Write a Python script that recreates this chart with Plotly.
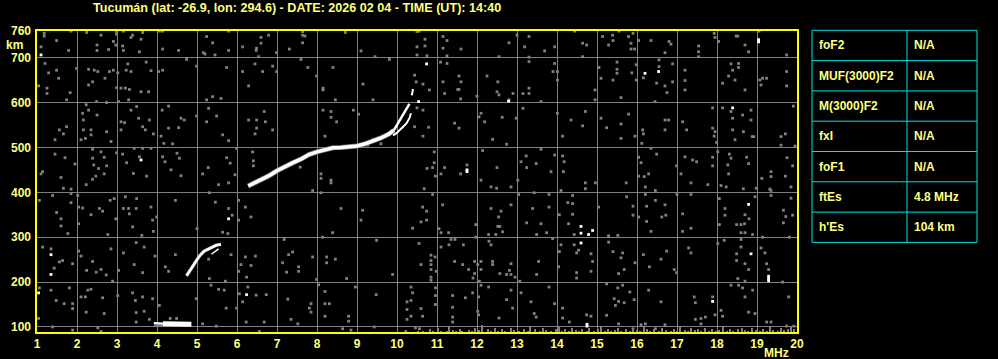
import plotly.graph_objects as go

TITLE = "Tucumán (lat: -26.9, lon: 294.6) - DATE: 2026 02 04 - TIME (UT): 14:40"
x_ticks = list(range(1, 21))
y_ticks = [100, 200, 300, 400, 500, 600, 700, 760]

table_params = ["foF2", "MUF(3000)F2", "M(3000)F2", "fxI", "foF1", "ftEs", "h'Es"]
table_values = ["N/A", "N/A", "N/A", "N/A", "N/A", "4.8 MHz", "104 km"]

# ---- echo traces (MHz, km) ----
es_f = [4.15, 4.30, 4.50, 4.70, 4.86]
es_h = [107, 107, 106, 106, 106]
es_lead_f = [3.92, 4.02, 4.15]
es_lead_h = [109, 109, 108]

f1_f = [4.74, 4.83, 4.96, 5.06, 5.18, 5.31, 5.48, 5.60]
f1_h = [214, 226, 245, 258, 269, 275, 282, 284]
f1x_f = [5.36, 5.43, 5.54]
f1x_h = [262, 266, 274]

f2_f = [6.28, 6.45, 6.60, 6.80, 7.00, 7.20, 7.40, 7.60, 7.80, 8.00, 8.20, 8.40, 8.60, 8.80, 9.00, 9.20, 9.40, 9.60, 9.80, 9.92]
f2_h = [414, 421, 428, 437, 448, 458, 466, 474, 484, 490, 495, 499, 500, 501, 503, 508, 514, 521, 530, 538]
f2_tip_f = [9.92, 10.02, 10.13, 10.23, 10.31]
f2_tip_h = [538, 553, 570, 583, 597]
f2_cusp_f = [10.37, 10.40]
f2_cusp_h = [616, 630]
f2x_f = [9.90, 9.98, 10.14, 10.24, 10.31, 10.35]
f2x_h = [527, 531, 545, 554, 565, 576]

white_dots = [(1.10, 706), (3.60, 472), (10.74, 686), (12.79, 603), (11.75, 446), (11.75, 450),
              (19.04, 735), (19.04, 740), (16.20, 665), (16.54, 669), (18.39, 588), (14.60, 324),
              (14.60, 309), (14.79, 306), (14.89, 315), (14.60, 287), (18.79, 373), (18.85, 263),
              (19.29, 203), (19.29, 208), (19.29, 213), (17.89, 157), (14.75, 102), (14.75, 106),
              (1.35, 261), (1.35, 217), (1.04, 176), (5.79, 341), (6.24, 172), (10.54, 602)]

noise_a = [(1.18,754),(1.18,748),(1.85,759),(2.24,756),(2.60,750),(2.99,758),(2.99,752),(3.16,759),(3.39,750),(3.35,745),(3.64,756),(4.06,759),(4.14,759),(1.10,724),(1.49,738),(1.79,716),(2.50,728),(2.50,716),(2.79,718),(2.91,736),(2.97,728),(3.14,726),(3.16,716),(3.56,713),(3.60,741),(4.14,719),(4.54,716),(5.16,711),(5.20,708),(5.24,747),(5.39,733),(5.45,706),(5.79,716),(5.79,759),(6.14,724),(6.48,716),(6.49,721),(6.60,745),(6.60,732),(6.79,750),(6.99,711),(7.31,719),(6.54,702),
           (1.20,687),(1.29,666),(1.49,672),(1.54,654),(1.99,676),(2.29,674),(2.43,672),(2.52,669),(2.70,654),(2.81,669),(2.91,672),(3.02,666),(3.23,672),(3.35,669),(3.27,686),(3.73,690),(3.85,671),(4.04,669),(4.14,672),(1.04,637),(1.25,632),(1.25,620),(1.83,622),(2.29,639),(2.39,646),(2.99,633),(3.10,632),(3.21,632),(3.31,629),(3.60,624),(3.79,624),(1.74,606),(2.49,602),(2.74,600),(3.04,602),(3.29,606),(4.74,696),(4.99,681),(5.24,606),(5.39,613),(5.60,609),(5.74,678),(6.14,669),(6.29,637),(6.45,686),(6.64,669),(6.89,681),(6.99,669),
           (2.23,595),(2.29,583),(2.50,572),(2.14,576),(2.16,561),(3.10,557),(3.19,555),(3.49,591),(3.54,565),(3.35,583),(3.64,546),(3.81,561),(3.71,539),(4.13,583),(4.29,592),(4.60,565),(4.68,561),(4.29,543),(4.54,544),(1.56,539),(1.74,546),(1.45,517),(1.66,530),(2.16,539),(2.35,539),(2.35,528),(2.21,520),(2.10,517),(2.74,535),(2.85,513),(3.10,539),(3.91,530),(4.10,525),(4.17,509),(4.39,508),(4.99,570),(5.24,557),(5.29,587),(5.49,570),(5.64,528),(5.79,515),(5.99,498),(6.29,561),(6.49,561),(6.49,543),(6.68,580),(6.71,557),(6.89,539),(6.45,530),
           (1.45,485),(1.70,477),(1.95,463),(2.39,496),(2.39,476),(2.42,461),(2.54,453),(2.60,490),(2.68,478),(2.74,459),(2.99,488),(3.14,485),(3.24,466),(3.41,442),(3.56,479),(3.74,436),(4.14,479),(4.20,468),(4.35,450),(4.50,487),(4.56,476),(4.60,437),(5.14,441),(5.28,455),(5.74,477),(5.83,465),(5.95,439),(6.39,490),(6.41,470),(6.41,459),(1.10,441),(1.14,446),(1.60,433),(2.39,429),(2.47,436),(2.68,441),(3.43,498),(3.64,498),(3.85,498)]

noise_b = [(7.64,758),(7.64,750),(7.70,748),(7.64,733),(8.71,756),(10.50,758),(10.55,759),(10.70,741),(10.50,724),(10.70,726),(11.15,747),(11.25,738),(11.15,721),(11.60,719),(11.25,704),(11.25,687),(10.50,706),(10.75,704),(9.10,715),(9.45,702),(9.81,696),(7.60,696),(7.77,678),(8.40,678),(7.99,659),(8.15,632),(8.15,628),(9.15,641),(8.46,606),(9.40,606),(10.44,661),(10.48,646),(10.65,641),(10.81,628),(11.09,690),(11.15,646),(11.55,659),(11.60,646),(11.52,629),(11.55,629),(11.19,620),(11.59,608),(12.25,659),(12.52,646),(12.50,624),(12.55,617),(12.90,620),(13.15,620),(13.30,620),(13.30,632),(12.80,733),(13.00,750),(13.30,747),(13.19,724),(13.69,715),(13.94,724),(12.55,702),(13.30,701),(13.30,691),(13.90,669),(13.94,687),(13.60,602),(13.15,587),(12.80,606),(12.98,565),(12.63,567),(12.05,568),(12.10,576),(12.19,557),(11.44,554),(11.55,543),(12.00,614),(10.65,583),(10.50,588),(10.44,546),(10.79,545),(10.65,525),(8.15,583),(8.35,580),(8.35,567),(8.49,557),(8.91,583),(9.04,574),(8.20,525),(7.58,456),(8.10,441),(8.10,431),(8.35,427),(10.93,490),(10.93,466),(10.96,436),(10.75,453),(10.89,455),(11.10,441),(11.19,455),(11.59,441),(11.75,461),(12.10,427),(12.14,493),(12.39,518),(12.50,455),(12.74,507),(13.02,427),(13.10,468),(13.23,481),(13.24,455),(13.48,464),(13.60,496),(13.85,446),(13.94,483),(9.60,508),(9.41,518),(9.27,505)]

noise_c = [(14.44,759),(14.64,732),(14.74,728),(14.64,702),(15.14,747),(15.29,728),(15.39,750),(15.40,738),(15.55,759),(15.79,747),(15.85,732),(15.85,719),(15.94,719),(15.90,754),(16.04,738),(16.35,738),(16.70,711),(16.80,736),(16.85,730),(17.54,726),(17.54,713),(17.54,702),(17.93,754),(17.95,745),(18.04,736),(18.48,748),(18.52,748),(18.70,728),(18.79,713),(19.05,759),(19.74,706),(14.01,669),(14.01,650),(14.95,628),(14.95,606),(15.05,678),(15.10,654),(15.40,650),(15.50,690),(15.50,674),(15.50,665),(15.60,611),(15.98,684),(15.87,666),(15.98,650),(16.16,655),(16.49,643),(16.55,695),(16.55,680),(16.70,637),(16.75,622),(16.89,686),(16.89,646),(16.45,602),(17.20,672),(17.20,649),(17.20,628),(18.14,643),(18.29,659),(18.35,686),(18.39,672),(18.54,687),(18.54,678),(18.45,650),(18.70,628),(19.07,650),(19.14,654),(19.24,654),(19.10,639),(19.74,669),(19.74,637),
           (14.01,576),(14.35,561),(14.64,548),(14.71,580),(14.14,525),(15.10,565),(15.24,544),(15.60,552),(15.60,520),(15.79,574),(15.95,525),(16.14,539),(16.16,530),(16.12,509),(16.70,561),(16.79,561),(16.70,539),(17.14,557),(17.24,539),(17.89,588),(17.89,543),(17.95,535),(17.93,525),(17.99,511),(18.14,588),(18.35,580),(18.39,565),(18.39,539),(18.45,517),(18.64,572),(18.66,535),(18.85,583),(18.85,561),(18.88,524),(18.92,524),(19.60,524),(19.60,505),(19.71,530),(19.91,592),(19.95,503),
           (14.14,481),(14.18,468),(14.16,446),(16.04,478),(16.10,466),(16.04,436),(16.18,435),(16.29,441),(16.49,485),(16.35,498),(16.99,459),(17.10,441),(17.20,479),(17.39,472),(17.49,468),(17.89,478),(17.89,459),(18.02,490),(18.27,461),(18.29,441),(18.31,485),(18.35,476),(18.74,478),(18.79,464),(19.12,431),(19.35,446),(19.35,435),(19.71,436),(19.75,477),(19.89,459)]

noise_d = [(1.66,409),(1.85,407),(1.85,397),(2.02,393),(2.23,417),(1.06,382),(1.39,393),(1.49,355),(1.60,341),(1.60,325),(1.77,308),(1.85,377),(2.04,367),(2.04,330),(2.14,365),(2.35,350),(2.56,364),(2.64,358),(2.77,306),(2.83,382),(2.93,386),(2.97,341),(3.16,364),(3.21,390),(3.29,364),(3.31,352),(3.39,323),(3.48,364),(3.49,386),(3.62,304),(3.85,367),(3.89,338),(3.91,313),(3.99,345),(4.46,382),(5.00,319),(5.31,399),(5.46,378),(5.54,417),(5.79,364),(5.79,421),(6.04,382),(6.04,338),(6.21,367),(6.35,345),(5.64,311),(5.77,308),(5.88,349),
           (1.14,278),(1.35,274),(1.43,231),(1.56,245),(1.64,248),(1.89,241),(2.04,269),(2.10,258),(2.24,226),(2.39,246),(2.48,222),(2.60,228),(2.73,216),(2.85,274),(2.89,202),(3.04,226),(3.16,265),(3.43,239),(3.48,288),(3.64,221),(3.68,278),(3.95,258),(4.21,234),(4.29,224),(4.46,261),(5.29,251),(5.31,208),(5.71,202),(5.85,261),(6.04,224),(6.10,239),(6.21,256),(6.24,211),(6.35,237),(6.46,258),(7.14,243),(7.24,222),(7.39,267),(7.29,261),(7.18,295),
           (1.06,187),(1.35,182),(1.48,159),(1.81,187),(1.89,152),(1.89,141),(2.10,167),(2.27,182),(2.35,184),(2.21,167),(2.64,165),(2.68,130),(3.02,170),(3.39,176),(3.46,159),(3.64,167),(3.68,135),(3.89,163),(4.06,148),(4.33,119),(4.49,119),(3.81,117),(3.48,111),(3.48,132),(1.89,93),(2.23,133),(2.52,98),(2.60,90),(1.39,100),(5.35,193),(5.54,184),(5.68,182),(6.06,174),(6.14,156),(6.27,189),(6.48,171),(6.73,172),(7.27,162),(7.35,117),(6.68,111),(6.56,90),(6.23,111),(5.73,142),(5.48,102),(5.14,107),(4.98,163),(5.99,142),(1.04,119),(1.68,152)]

noise_e = [(7.89,404),(8.35,421),(8.10,399),(8.60,364),(9.14,360),(9.10,338),(8.39,310),(8.14,300),(9.49,293),(10.68,408),(10.64,367),(10.74,358),(10.74,338),(10.60,334),(10.39,320),(10.89,395),(11.14,372),(11.05,319),(11.10,310),(11.29,310),(11.45,295),(11.35,295),(12.35,412),(12.49,409),(12.85,412),(13.04,395),(13.43,399),(13.80,395),(12.85,372),(12.35,364),(12.60,358),(12.54,345),(12.52,324),(12.57,324),(12.64,312),(12.47,306),(12.29,306),(11.97,328),(11.97,300),(13.24,332),(13.39,364),(13.60,330),(13.80,367),(13.74,310),(13.49,306),(13.89,297),
           (10.55,286),(11.10,278),(11.30,283),(11.66,283),(12.30,291),(12.35,283),(10.85,260),(10.85,248),(10.85,239),(10.85,228),(10.95,256),(10.60,239),(10.98,224),(10.85,211),(10.85,204),(11.44,246),(11.64,239),(11.79,228),(11.94,246),(11.94,219),(11.90,209),(12.02,239),(12.10,246),(12.39,246),(12.39,239),(12.10,228),(12.57,219),(12.74,217),(12.81,226),(12.85,241),(12.85,217),(12.95,211),(13.54,246),(13.49,217),(13.07,202),(12.06,202),(7.89,256),(8.24,256),(8.24,243),(8.46,251),(7.54,234),(7.54,224),(8.74,208),(7.99,206),(9.89,217),
           (8.96,189),(8.04,194),(8.20,179),(7.85,152),(7.81,142),(7.85,133),(8.20,152),(8.31,152),(8.20,124),(8.79,124),(8.79,113),(9.48,172),(10.35,189),(10.35,159),(10.39,176),(10.25,156),(10.25,139),(10.60,141),(10.35,124),(10.64,124),(10.25,117),(10.96,187),(10.96,170),(10.96,150),(11.39,170),(11.39,144),(11.39,122),(11.39,111),(11.71,165),(11.89,176),(12.04,167),(12.10,193),(12.02,135),(12.04,127),(12.29,189),(12.55,120),(12.74,161),(12.85,182),(12.89,142),(13.10,176),(13.35,156),(13.43,130),(13.48,122),(13.80,189),(13.94,152),(7.52,107),(8.64,96),(8.85,93),(9.43,100),(10.22,90),(10.46,98),(10.56,96)]

noise_f = [(14.10,404),(14.71,408),(14.71,421),(14.96,421),(15.73,421),(16.21,412),(16.46,404),(17.35,421),(17.77,417),(18.10,415),(18.23,412),(18.66,408),(18.98,409),(19.35,404),(19.85,412),(14.39,393),(14.39,375),(14.27,377),(14.06,350),(14.29,330),(14.43,306),(14.39,351),(15.04,367),(15.74,390),(15.90,369),(15.90,349),(16.04,345),(16.24,369),(16.46,382),(16.62,345),(16.70,372),(16.72,349),(16.21,395),(17.00,395),(17.14,352),(17.35,395),(17.35,320),(17.14,313),(16.35,313),(16.24,335),(15.29,303),(15.29,289),(15.52,304),(18.06,386),(18.20,364),(18.20,349),(18.70,350),(18.80,341),(18.95,390),(19.35,393),(19.32,407),(19.66,360),(19.72,346),(19.66,332),(19.89,349),(19.85,387),(18.06,328),(18.49,328),(18.60,328),(18.69,330),(18.60,310),(18.70,310),(18.89,306),(19.14,300),(19.81,300),
           (14.10,283),(14.06,268),(14.43,283),(14.54,271),(14.49,265),(14.85,263),(14.89,246),(14.85,224),(14.49,221),(14.49,209),(15.40,268),(15.60,254),(15.64,265),(15.54,219),(15.68,228),(15.95,243),(16.16,261),(16.31,234),(16.74,269),(16.60,251),(16.93,228),(16.99,221),(17.29,276),(17.35,265),(18.02,286),(18.18,293),(18.49,263),(18.49,248),(18.60,278),(18.60,295),(18.70,241),(18.79,228),(18.52,208),(18.70,202),(19.10,276),(19.20,265),(19.24,241),(19.29,228),(19.64,200),(14.04,234),
           (15.24,196),(15.52,187),(15.64,193),(15.82,178),(15.68,154),(15.54,157),(15.43,163),(15.46,148),(15.93,161),(16.29,182),(16.60,156),(17.43,167),(17.46,154),(17.89,167),(18.35,193),(18.54,193),(18.64,187),(18.89,182),(18.70,167),(19.79,167),(14.14,142),(14.14,120),(14.31,111),(14.74,127),(14.85,124),(15.24,126),(15.54,107),(15.90,96),(16.10,105),(16.21,107),(16.46,96),(16.70,105),(17.46,117),(17.60,119),(17.60,107),(17.71,122),(17.95,127),(18.10,137),(18.14,124),(18.79,133),(18.95,130),(19.24,111),(19.35,111),(19.74,102),(19.92,102)]

# noise columns rising from the lower edge (MHz, top km)
bottom_noise = [(10.52,92),(10.66,90),(10.83,95),(10.90,91),(11.02,97),(11.09,92),(11.24,90),(11.31,99),(11.40,93),(11.47,90),(11.58,96),(11.63,91),(11.79,94),(11.88,90),(11.95,97),(12.04,93),(12.12,104),(12.27,95),(12.36,90),(12.45,98),(12.52,92),(12.63,95),(12.71,90),(12.86,97),(12.93,94),(13.05,91),(13.18,96),(13.27,92),(13.33,100),(13.44,95),(13.58,91),(13.66,97),(13.73,93),(13.86,90),(13.97,96),(14.05,99),(14.12,92),(14.21,95),(14.30,91),(14.37,98),(14.48,93),(14.55,90),(14.63,96),(14.74,92),(14.81,97),(14.92,91),(15.03,95),(15.10,99),(15.19,92),(15.27,96),(15.36,90),(15.45,94),(15.53,98),(15.61,91),(15.73,95),(15.82,92),(15.90,97),(16.00,93),(16.08,90),(16.17,99),(16.24,95),(16.33,91),(16.42,96),(16.56,92),(16.63,97),(16.72,94),(16.85,90),(16.92,96),(17.01,92),(17.08,99),(17.19,94),(17.27,91),(17.35,97),(17.44,93),(17.52,95),(17.60,90),(17.71,98),(17.80,92),(17.88,96),(17.97,91),(18.06,94),(18.15,99),(18.25,92),(18.33,96),(18.41,90),(18.52,95),(18.63,98),(18.70,93),(18.78,91),(18.88,97),(18.97,94),(19.08,90),(19.16,96),(19.25,92),(19.33,99),(19.41,94),(19.52,91),(19.60,97),(19.68,93),(19.77,96),(19.85,99),(19.93,95)]

# ---- layout geometry (pixels) ----
W, H = 998, 359
L, R, T, B = 36, 200, 30, 26
PW, PH = W - L - R, H - T - B


def px(x):
    return (x - L) / PW


def py(y):
    return (H - B - y) / PH


GRAY = "#808080"
TXT = "#FFFF80"
YEL = "#FFFF00"
CYAN = "#00E0E0"
FONT = "Liberation Sans, Arial, sans-serif"

fig = go.Figure()

noise = noise_a + noise_b + noise_c + noise_d + noise_e + noise_f
fig.add_trace(go.Scatter(x=[p[0] for p in noise], y=[p[1] for p in noise], mode="markers",
                         marker=dict(symbol="square", size=2.8, color=GRAY, line=dict(width=0)),
                         hoverinfo="skip"))
fig.add_trace(go.Bar(x=[p[0] for p in bottom_noise], y=[p[1] - 86.6 for p in bottom_noise], base=86.6,
                     width=0.05, marker=dict(color=GRAY, line=dict(width=0)), hoverinfo="skip"))


def echo(xs, ys, w, color="#FFFFFF"):
    fig.add_trace(go.Scatter(x=xs, y=ys, mode="lines", line=dict(color=color, width=w),
                             hoverinfo="skip"))


# gray fringe under main echoes
echo(f2_f, f2_h, 5, GRAY)
echo(f1_f, f1_h, 3.5, GRAY)
echo(es_lead_f, [h - 3 for h in es_lead_h], 3, GRAY)
# white echoes
echo(es_f, es_h, 5)
echo(es_lead_f, es_lead_h, 2)
echo(f1_f, f1_h, 2.5)
echo(f1x_f, f1x_h, 1.5)
echo(f2_f, f2_h, 3.5)
echo(f2_tip_f, f2_tip_h, 2.5)
echo(f2_cusp_f, f2_cusp_h, 2)
echo(f2x_f, f2x_h, 2)

fig.add_trace(go.Scatter(x=[p[0] for p in white_dots], y=[p[1] for p in white_dots], mode="markers",
                         marker=dict(symbol="square", size=2.8, color="#FFFFFF", line=dict(width=0)),
                         hoverinfo="skip"))

shapes = [dict(type="rect", xref="paper", yref="paper", x0=0, x1=1, y0=0, y1=1,
               line=dict(color=YEL, width=2), layer="above")]
# table
tx0, tx1, txm = px(812), px(977), px(907)
row_y = [30.3, 60.6, 90.9, 121.2, 151.5, 181.8, 212.1, 242.4]
shapes.append(dict(type="rect", xref="paper", yref="paper", x0=tx0, x1=tx1, y0=py(row_y[-1]), y1=py(row_y[0]),
                   line=dict(color=CYAN, width=1)))
shapes.append(dict(type="line", xref="paper", yref="paper", x0=txm, x1=txm, y0=py(row_y[-1]), y1=py(row_y[0]),
                   line=dict(color=CYAN, width=1)))
for yy in row_y[1:-1]:
    shapes.append(dict(type="line", xref="paper", yref="paper", x0=tx0, x1=tx1, y0=py(yy), y1=py(yy),
                       line=dict(color=CYAN, width=1)))

ann = [dict(text=TITLE, x=px(91), y=py(8), xref="paper", yref="paper", xanchor="left", yanchor="middle",
            showarrow=False, font=dict(family=FONT, size=12.6, color=TXT, weight="bold")),
       dict(text="km", x=px(14), y=py(45), xref="paper", yref="paper", xanchor="center", yanchor="middle",
            showarrow=False, font=dict(family=FONT, size=12, color=TXT, weight="bold")),
       dict(text="MHz", x=px(776), y=py(353), xref="paper", yref="paper", xanchor="center", yanchor="middle",
            showarrow=False, font=dict(family=FONT, size=12, color=TXT, weight="bold"))]
for i, (p, v) in enumerate(zip(table_params, table_values)):
    yc = py((row_y[i] + row_y[i + 1]) / 2)
    ann.append(dict(text=p, x=px(817), y=yc, xref="paper", yref="paper", xanchor="left", yanchor="middle",
                    showarrow=False, font=dict(family=FONT, size=12, color=TXT, weight="bold")))
    ann.append(dict(text=v, x=px(912), y=yc, xref="paper", yref="paper", xanchor="left", yanchor="middle",
                    showarrow=False, font=dict(family=FONT, size=12, color=TXT, weight="bold")))

fig.update_layout(
    width=W, height=H, autosize=False,
    margin=dict(l=L, r=R, t=T, b=B, pad=0, autoexpand=False),
    paper_bgcolor="#000000", plot_bgcolor="#000000",
    showlegend=False, bargap=0,
    shapes=shapes, annotations=ann,
    xaxis=dict(range=[0.975, 20.025], tickvals=x_ticks, ticktext=[str(v) for v in x_ticks],
               showgrid=True, gridcolor=GRAY, gridwidth=1, zeroline=False, showline=False,
               ticks="", ticklabelstandoff=2, automargin=False,
               tickfont=dict(family=FONT, size=12, color=TXT, weight="bold")),
    yaxis=dict(range=[86.6, 761.5], tickvals=y_ticks, ticktext=[str(v) for v in y_ticks],
               showgrid=True, gridcolor=GRAY, gridwidth=1, zeroline=False, showline=False,
               ticks="", ticklabelstandoff=4, automargin=False,
               tickfont=dict(family=FONT, size=12, color=TXT, weight="bold")),
)

fig.write_html("out.html")
